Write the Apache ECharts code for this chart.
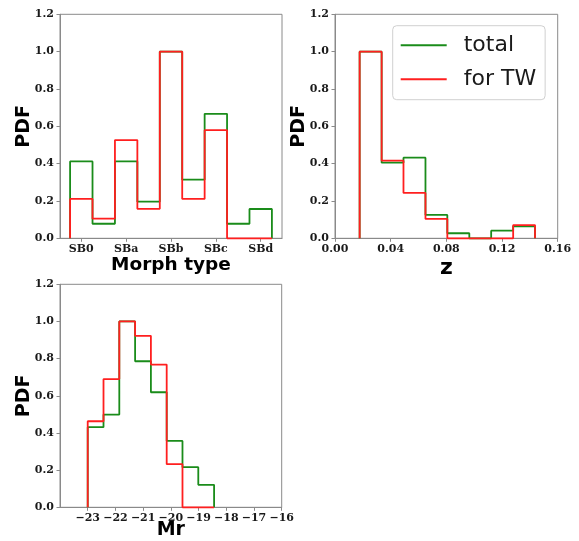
<!DOCTYPE html>
<html>
<head>
<meta charset="utf-8">
<script src="https://cdn.jsdelivr.net/npm/echarts@6/dist/echarts.min.js"></script>
<style>
  html, body { margin: 0; padding: 0; background: #fff; }
  #chart { width: 579px; height: 541px; }
</style>
</head>
<body>
<div id="chart"></div>
<script>
// Morphological type histogram (bins centred on each type, half-type wide)
const morphTypes = ['SB0', 'SBa', 'SBb', 'SBc', 'SBd'];
const morphEdges = [-0.25, 0.25, 0.75, 1.25, 1.75, 2.25, 2.75, 3.25, 3.75, 4.25];
const morphTotal = [0.412, 0.078, 0.412, 0.196, 1.0, 0.314, 0.667, 0.078, 0.157];
const morphTW    = [0.211, 0.105, 0.526, 0.158, 1.0, 0.211, 0.579, 0, 0];

// Redshift histogram
const zEdges = [0.0177, 0.0335, 0.0492, 0.0650, 0.0807, 0.0965, 0.1122, 0.1280, 0.1437];
const zTotal = [1.0, 0.405, 0.432, 0.125, 0.027, 0, 0.041, 0.064];
const zTW    = [1.0, 0.416, 0.243, 0.104, 0, 0, 0, 0.071];

// Absolute r-band magnitude histogram
const mrEdges = [-23.0, -22.43, -21.86, -21.29, -20.72, -20.15, -19.58, -19.01, -18.44];
const mrTotal = [0.431, 0.499, 1.0, 0.786, 0.619, 0.357, 0.216, 0.121];
const mrTW    = [0.463, 0.690, 1.0, 0.923, 0.768, 0.232, 0, 0];
const mrTicks = [-23, -22, -21, -20, -19, -18, -17, -16];

const zTicks = [0.00, 0.04, 0.08, 0.12, 0.16];

const GREEN = '#1a8c1a';
const RED = '#ff1f1f';
const SPINE = '#8a8a8a';

// Outline of a step histogram: up from the first edge, across each bin, down at the last edge
function stepOutline(edges, vals) {
  const pts = [[edges[0], 0]];
  for (let i = 0; i < vals.length; i++) {
    pts.push([edges[i], vals[i]]);
    pts.push([edges[i + 1], vals[i]]);
  }
  pts.push([edges[edges.length - 1], 0]);
  return pts;
}

const tickFont = {
  fontFamily: 'DejaVu Serif',
  fontWeight: 'bold',
  fontSize: 11,
  color: '#1a1a1a'
};
const nameFont = {
  fontFamily: 'DejaVu Sans',
  fontWeight: 'bold',
  fontSize: 19,
  color: '#000',
  verticalAlign: 'middle'
};

function yAxisFor(gridIndex) {
  return {
    type: 'value', gridIndex,
    min: 0, max: 1.2, interval: 0.2,
    name: 'PDF', nameLocation: 'middle', nameGap: 36, nameMoveOverlap: false,
    nameTextStyle: Object.assign({}, nameFont, { fontSize: 19 }),
    axisLine: { show: true, onZero: false, lineStyle: { color: SPINE, width: 1 } },
    axisTick: { show: true, inside: false, length: 3.5, lineStyle: { color: SPINE } },
    axisLabel: Object.assign({ margin: 6, formatter: v => v.toFixed(1) }, tickFont),
    splitLine: { show: false }
  };
}

const grids = [
  { left: 60, top: 14.3, width: 222, height: 224 },
  { left: 335, top: 14.3, width: 222.7, height: 224 },
  { left: 60, top: 284.3, width: 221.7, height: 223 }
].map(g => Object.assign({ show: true, borderColor: SPINE, borderWidth: 1, backgroundColor: '#fff' }, g));

const xAxes = [
  {
    type: 'value', gridIndex: 0, min: -0.475, max: 4.475,
    name: 'Morph type', nameLocation: 'middle', nameGap: 27, nameMoveOverlap: false,
    nameTextStyle: Object.assign({}, nameFont, { fontSize: 18.5 }),
    axisLine: { show: true, onZero: false, lineStyle: { color: SPINE } },
    axisTick: { show: true, length: 3.5, lineStyle: { color: SPINE }, customValues: morphTypes.map((_, i) => i) },
    axisLabel: Object.assign({ margin: 5, customValues: morphTypes.map((_, i) => i),
      formatter: v => morphTypes[Math.round(v)] }, tickFont),
    splitLine: { show: false }
  },
  {
    type: 'value', gridIndex: 1, min: 0, max: 0.16, interval: 0.04,
    name: 'z', nameLocation: 'middle', nameGap: 29.5, nameMoveOverlap: false,
    nameTextStyle: Object.assign({}, nameFont, { fontSize: 22 }),
    axisLine: { show: true, onZero: false, lineStyle: { color: SPINE } },
    axisTick: { show: true, length: 3.5, lineStyle: { color: SPINE }, customValues: zTicks },
    axisLabel: Object.assign({ margin: 5, customValues: zTicks, formatter: v => v.toFixed(2) }, tickFont),
    splitLine: { show: false }
  },
  {
    type: 'value', gridIndex: 2, min: -24, max: -16, interval: 1,
    name: 'Mr', nameLocation: 'middle', nameGap: 22.5, nameMoveOverlap: false,
    nameTextStyle: Object.assign({}, nameFont, { fontSize: 19 }),
    axisLine: { show: true, onZero: false, lineStyle: { color: SPINE } },
    axisTick: { show: true, length: 3.5, lineStyle: { color: SPINE }, customValues: mrTicks },
    axisLabel: Object.assign({ margin: 5, customValues: mrTicks,
      formatter: v => (v < 0 ? '\u2212' : '') + Math.abs(v) }, tickFont),
    splitLine: { show: false }
  }
];

function histSeries(name, color, axisIdx, edges, vals) {
  return {
    name, type: 'line', xAxisIndex: axisIdx, yAxisIndex: axisIdx,
    data: stepOutline(edges, vals),
    symbol: 'none', showSymbol: false,
    lineStyle: { color, width: 1.8 },
    itemStyle: { color },
    silent: true, clip: false
  };
}

const chart = echarts.init(document.getElementById('chart'), null, { renderer: 'canvas' });
chart.setOption({
  animation: false,
  backgroundColor: '#fff',
  grid: grids,
  xAxis: xAxes,
  yAxis: [yAxisFor(0), yAxisFor(1), yAxisFor(2)],
  legend: {
    data: ['total', 'for TW'],
    orient: 'vertical',
    left: 392.7, top: 25.7,
    padding: [7.5, 9, 8.5, 8],
    itemGap: 10,
    icon: 'rect', itemWidth: 46, itemHeight: 2,
    selectedMode: false,
    backgroundColor: 'rgba(255,255,255,0.85)',
    borderColor: '#d0d0d0', borderWidth: 1, borderRadius: 4,
    textStyle: {
      fontFamily: 'DejaVu Sans', fontSize: 22, color: '#1a1a1a',
      lineHeight: 24, padding: [0, 0, 0, 12]
    }
  },
  series: [
    histSeries('total', GREEN, 0, morphEdges, morphTotal),
    histSeries('for TW', RED, 0, morphEdges, morphTW),
    histSeries('total', GREEN, 1, zEdges, zTotal),
    histSeries('for TW', RED, 1, zEdges, zTW),
    histSeries('total', GREEN, 2, mrEdges, mrTotal),
    histSeries('for TW', RED, 2, mrEdges, mrTW)
  ]
});
</script>
</body>
</html>
